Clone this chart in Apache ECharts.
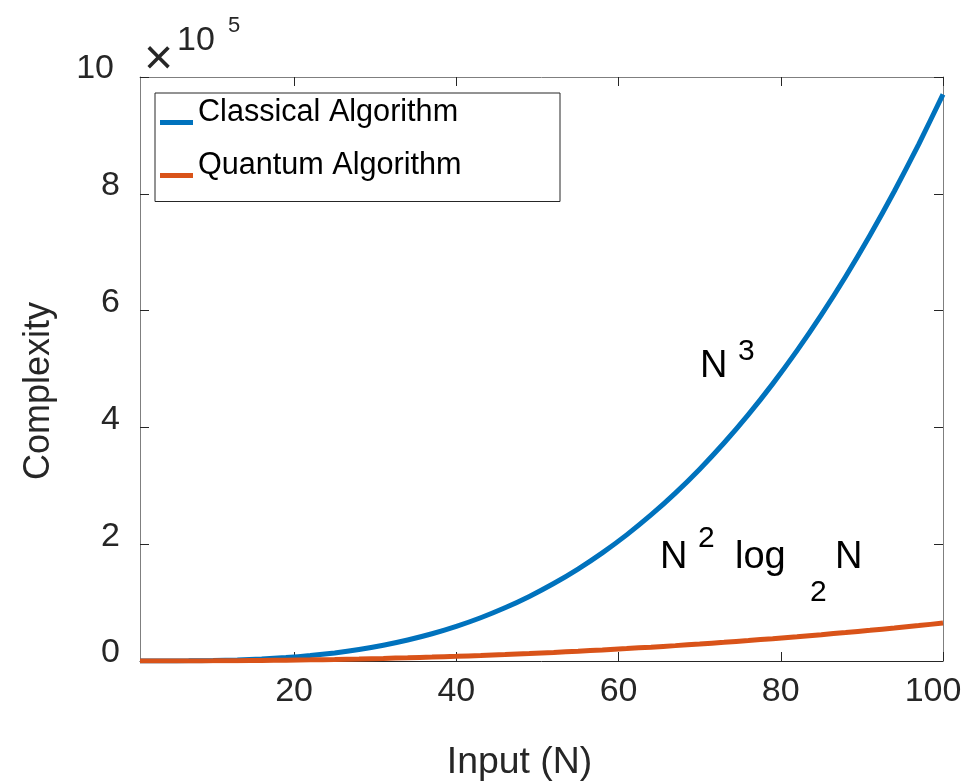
<!DOCTYPE html>
<html>
<head>
<meta charset="utf-8">
<script src="https://cdn.jsdelivr.net/npm/echarts@6/dist/echarts.min.js"></script>
<style>
  html, body { margin: 0; padding: 0; background: #fff; }
  #chart { width: 964px; height: 781px; }
</style>
</head>
<body>
<div id="chart"></div>
<script>
// Input sizes N along the x axis
const inputN = [1, 4, 7, 10, 13, 16, 19, 22, 25, 28, 31, 34, 37, 40, 43, 46, 49, 52, 55,
  58, 61, 64, 67, 70, 73, 76, 79, 82, 85, 88, 91, 94, 97, 100];

// Classical algorithm cost (~N^3)
const classicalCost = [0, 27, 216, 729, 1728, 3375, 5832, 9261, 13824, 19683, 27000, 35937,
  46656, 59319, 74088, 91125, 110592, 132651, 157464, 185193, 216000, 250047, 287496,
  328509, 373248, 421875, 474552, 531441, 592704, 658503, 729000, 804357, 884736, 970299];

// Quantum algorithm cost (~N^2 log2 N)
const quantumCost = [0, 14, 93, 257, 516, 879, 1351, 1937, 2641, 3466, 4416, 5493, 6700,
  8039, 9512, 11121, 12868, 14754, 16782, 18952, 21265, 23724, 26328, 29083, 31986,
  35038, 38239, 41596, 45103, 48766, 52584, 56557, 60687, 64974];

const seriesNames = ['Classical Algorithm', 'Quantum Algorithm'];
const xTicks = [20, 40, 60, 80, 100];
const yScale = 1e5;   // y tick labels are shown in units of 10^5

const FONT = '"Liberation Sans", Arial, Helvetica, sans-serif';
const BLUE = '#0072BD';
const ORANGE = '#D95319';
const AXIS_DARK = '#262626';
const AXIS_GRAY = '#7f7f7f';

const pairs = (xs, ys) => xs.map((x, i) => [x, ys[i]]);

const chart = echarts.init(document.getElementById('chart'), null, { renderer: 'canvas' });

const tickCommon = { show: true, inside: true, length: 9, lineStyle: { color: AXIS_DARK, width: 1 } };
const tickFont = { fontFamily: FONT, fontSize: 34, color: AXIS_DARK };

// Legend swatch: a short bar sitting low in its box, so it lines up with the text baseline
const legendIcon = 'path://M0,0L0,0M0,21L33,21L33,26L0,26ZM0,28L0,28';

const option = {
  backgroundColor: '#ffffff',
  animation: false,
  grid: { left: 140, right: 21, top: 77, bottom: 120, containLabel: false, outerBoundsMode: 'none' },
  legend: {
    data: seriesNames,
    orient: 'vertical',
    left: 155,
    top: 93,
    padding: [4.5, 3, 20, 5],
    itemGap: 22,
    itemWidth: 33,
    itemHeight: 28,
    icon: legendIcon,
    backgroundColor: '#ffffff',
    borderColor: AXIS_DARK,
    borderWidth: 1,
    borderRadius: 0,
    textStyle: {
      fontFamily: FONT,
      fontSize: 30.6,
      color: '#000000',
      lineHeight: 28,
      width: 359
    }
  },
  xAxis: [
    {
      type: 'value',
      position: 'bottom',
      min: 1,
      max: 100,
      name: 'Input (N)',
      nameLocation: 'middle',
      nameGap: 83,
      nameTextStyle: { fontFamily: FONT, fontSize: 37.4, color: AXIS_DARK, padding: [0, 44, 0, 0] },
      axisLine: { show: true, onZero: false, lineStyle: { color: AXIS_DARK, width: 1 } },
      axisTick: Object.assign({ customValues: xTicks }, tickCommon),
      axisLabel: Object.assign({
        customValues: xTicks,
        margin: 14,
        // the last label is nudged inward so it stays inside the figure
        formatter: v => (v === 100 ? '{edge|100}' : String(v)),
        rich: { edge: Object.assign({ padding: [0, 20, 0, 0] }, tickFont) }
      }, tickFont),
      splitLine: { show: false }
    },
    {
      type: 'value',
      position: 'top',
      min: 1,
      max: 100,
      axisLine: { show: true, onZero: false, lineStyle: { color: AXIS_GRAY, width: 1 } },
      axisTick: Object.assign({ customValues: xTicks }, tickCommon),
      axisLabel: { show: false },
      splitLine: { show: false }
    }
  ],
  yAxis: [
    {
      type: 'value',
      position: 'left',
      min: 0,
      max: 10 * yScale,
      interval: 2 * yScale,
      name: 'Complexity',
      nameLocation: 'middle',
      nameGap: 83,
      nameRotate: 90,
      nameTextStyle: { fontFamily: FONT, fontSize: 36, color: AXIS_DARK, padding: [0, 44, 0, 0] },
      axisLine: { show: true, onZero: false, lineStyle: { color: AXIS_GRAY, width: 1 } },
      axisTick: tickCommon,
      axisLabel: Object.assign({
        formatter: v => {
          const n = Math.round(v / yScale);
          return n === 10 ? '{wide|10}' : String(n);
        },
        rich: { wide: Object.assign({ padding: [0, 6, 0, 0], lineHeight: 16 }, tickFont) },
        margin: 20,
        verticalAlign: 'bottom',
        lineHeight: 16
      }, tickFont),
      splitLine: { show: false }
    },
    {
      type: 'value',
      position: 'right',
      min: 0,
      max: 10 * yScale,
      interval: 2 * yScale,
      axisLine: { show: true, onZero: false, lineStyle: { color: AXIS_GRAY, width: 1 } },
      axisTick: tickCommon,
      axisLabel: { show: false },
      splitLine: { show: false }
    }
  ],
  series: [
    {
      name: seriesNames[0],
      type: 'line',
      xAxisIndex: 0,
      yAxisIndex: 0,
      data: pairs(inputN, classicalCost),
      showSymbol: false,
      smooth: 0.2,
      lineStyle: { color: BLUE, width: 5 },
      itemStyle: { color: BLUE },
      z: 3
    },
    {
      name: seriesNames[1],
      type: 'line',
      xAxisIndex: 0,
      yAxisIndex: 0,
      data: pairs(inputN, quantumCost),
      showSymbol: false,
      smooth: 0.2,
      lineStyle: { color: ORANGE, width: 5 },
      itemStyle: { color: ORANGE },
      z: 4
    }
  ],
  graphic: [
    // exponent note above the y axis: x 10^5
    { type: 'text', left: 144, top: 35, style: { text: '\u00d7', font: '50px ' + FONT, fill: AXIS_DARK } },
    { type: 'text', left: 177, top: 24, style: { text: '10', font: '34px ' + FONT, fill: AXIS_DARK } },
    { type: 'text', left: 228, top: 15, style: { text: '5', font: '22px ' + FONT, fill: AXIS_DARK } },

    // curve annotation: N^3
    { type: 'text', left: 700, top: 348, style: { text: 'N', font: '38px ' + FONT, fill: '#000' } },
    { type: 'text', left: 738, top: 337, style: { text: '3', font: '30px ' + FONT, fill: '#000' } },

    // curve annotation: N^2 log_2 N
    { type: 'text', left: 660, top: 539, style: { text: 'N', font: '38px ' + FONT, fill: '#000' } },
    { type: 'text', left: 698, top: 524, style: { text: '2', font: '30px ' + FONT, fill: '#000' } },
    { type: 'text', left: 735, top: 539, style: { text: 'log', font: '38px ' + FONT, fill: '#000' } },
    { type: 'text', left: 810, top: 578, style: { text: '2', font: '30px ' + FONT, fill: '#000' } },
    { type: 'text', left: 835, top: 539, style: { text: 'N', font: '38px ' + FONT, fill: '#000' } }
  ]
};

chart.setOption(option);
</script>
</body>
</html>
